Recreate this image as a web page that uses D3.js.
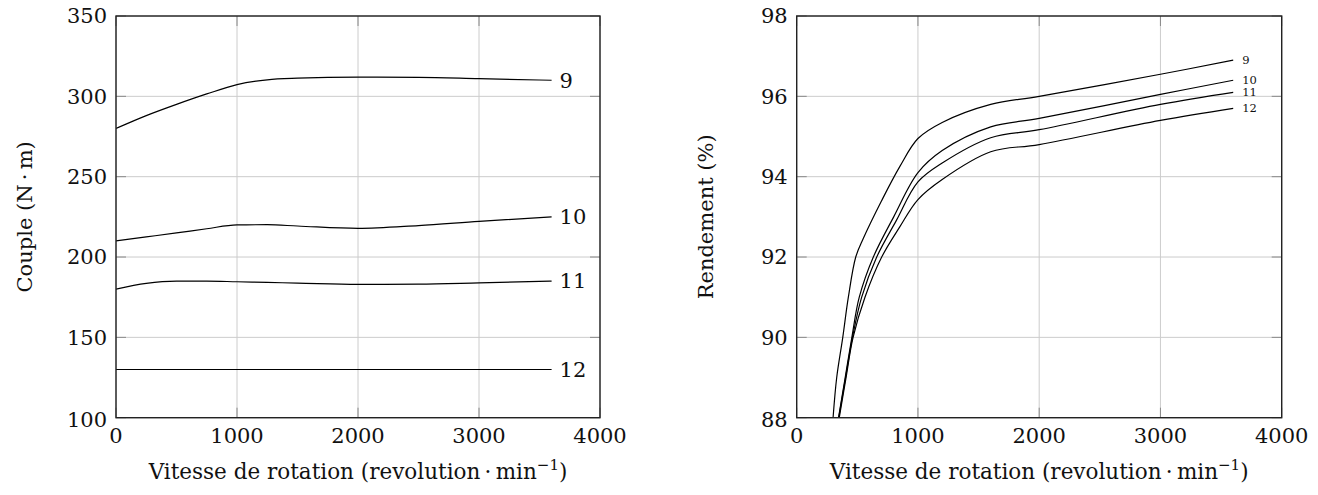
<!DOCTYPE html>
<html>
<head>
<meta charset="utf-8">
<script src="https://cdn.jsdelivr.net/npm/d3@7"></script>
<style>
  html, body { margin: 0; padding: 0; background: #fff; }
  svg { display: block; }
  text { font-family: "DejaVu Serif", serif; fill: #111; }
</style>
</head>
<body>
<svg id="chart" width="1318" height="495"></svg>
<script>
// ---------- data ----------
const seriesNames = ["9", "10", "11", "12"];

// Couple (N·m) vs vitesse
const coupleRpm = [0, 250, 500, 750, 1000, 1250, 1500, 2000, 2500, 3000, 3600];
const couple9  = [280, 288, 295, 301.5, 307.3, 310.3, 311.3, 312, 311.8, 311, 310];
const couple10 = [210, 212.5, 215, 217.6, 220, 220.1, 219.3, 217.8, 219.6, 222.2, 225];
const couple11 = [180, 183.6, 185, 185, 184.6, 184.2, 183.8, 183, 183.1, 183.9, 185];
const couple12 = [130, 130, 130, 130, 130, 130, 130, 130, 130, 130, 130];

// Rendement (%) vs vitesse
const rend9Rpm  = [300, 330, 380, 426, 487, 549, 700, 850, 1000, 1200, 1600, 2000, 3000, 3600];
const rend9     = [88, 89, 90, 91, 92, 92.46, 93.4, 94.25, 94.95, 95.35, 95.8, 96.0, 96.55, 96.9];
const rend10Rpm = [345, 400, 455, 516, 632, 800, 1000, 1200, 1600, 2000, 3000, 3600];
const rend10    = [88, 89, 90, 91, 92, 93.0, 94.1, 94.65, 95.24, 95.45, 96.05, 96.4];
const rend11Rpm = [347, 403, 460, 536, 660, 820, 1000, 1200, 1600, 2000, 3000, 3600];
const rend11    = [88, 89, 90, 91, 92, 92.9, 93.87, 94.34, 94.97, 95.17, 95.8, 96.1];
const rend12Rpm = [351, 407, 465, 563, 701, 850, 1000, 1200, 1600, 2000, 3000, 3600];
const rend12    = [88, 89, 90, 91, 92, 92.75, 93.43, 93.93, 94.62, 94.8, 95.4, 95.7];

const xTicks = [0, 1000, 2000, 3000, 4000];
const coupleTicks = [100, 150, 200, 250, 300, 350];
const rendTicks = [88, 90, 92, 94, 96, 98];

const xLabel = "Vitesse de rotation (revolution\u2009\u00b7\u2009min";
const coupleLabel = "Couple (N\u2009\u00b7\u2009m)";
const rendLabel = "Rendement (%)";

// ---------- drawing ----------
const svg = d3.select("#chart");

function zip(xs, ys) { return xs.map((x, i) => [x, ys[i]]); }

function panel(opts) {
  const { left, right, top, bottom, yDomain, yTicks, series, yLabel, yLabelX, labelSize, curve } = opts;
  const x = d3.scaleLinear().domain([0, 4000]).range([left, right]);
  const y = d3.scaleLinear().domain(yDomain).range([bottom, top]);
  const g = svg.append("g");

  const clipId = "clip" + Math.round(left);
  svg.append("defs").append("clipPath").attr("id", clipId)
    .append("rect").attr("x", left).attr("y", top).attr("width", right - left).attr("height", bottom - top);

  // grid
  g.append("g").selectAll("line").data(xTicks).join("line")
    .attr("x1", d => x(d)).attr("x2", d => x(d)).attr("y1", top).attr("y2", bottom)
    .attr("stroke", "#cccccc").attr("stroke-width", 1);
  g.append("g").selectAll("line").data(yTicks).join("line")
    .attr("y1", d => y(d)).attr("y2", d => y(d)).attr("x1", left).attr("x2", right)
    .attr("stroke", "#cccccc").attr("stroke-width", 1);

  // tick marks (inside, mirrored)
  const tl = 10;
  const tk = g.append("g").attr("stroke", "#8a8a8a").attr("stroke-width", 1);
  tk.selectAll(".xb").data(xTicks).join("line")
    .attr("x1", d => x(d)).attr("x2", d => x(d)).attr("y1", bottom).attr("y2", bottom - tl);
  tk.selectAll(".xt").data(xTicks).join("line")
    .attr("x1", d => x(d)).attr("x2", d => x(d)).attr("y1", top).attr("y2", top + tl);
  tk.selectAll(".yl").data(yTicks).join("line")
    .attr("y1", d => y(d)).attr("y2", d => y(d)).attr("x1", left).attr("x2", left + tl);
  tk.selectAll(".yr").data(yTicks).join("line")
    .attr("y1", d => y(d)).attr("y2", d => y(d)).attr("x1", right).attr("x2", right - tl);

  // curves
  const line = d3.line().x(d => x(d[0])).y(d => y(d[1])).curve(curve);
  const cg = g.append("g").attr("clip-path", `url(#${clipId})`);
  series.forEach(s => {
    cg.append("path").attr("d", line(s.pts)).attr("fill", "none")
      .attr("stroke", "#000").attr("stroke-width", 1.2);
  });
  // series labels
  series.forEach(s => {
    const last = s.pts[s.pts.length - 1];
    g.append("text").attr("x", x(last[0]) + (labelSize > 14 ? 8 : 9)).attr("y", y(last[1]))
      .attr("dy", "0.35em").attr("font-size", labelSize).text(s.name);
  });

  // frame
  g.append("rect").attr("x", left).attr("y", top).attr("width", right - left).attr("height", bottom - top)
    .attr("fill", "none").attr("stroke", "#222").attr("stroke-width", 1.4);

  // tick labels
  g.append("g").selectAll("text").data(xTicks).join("text")
    .attr("x", d => x(d)).attr("y", bottom + 18).attr("dy", "0.35em")
    .attr("text-anchor", "middle").attr("font-size", 21).text(d => d);
  g.append("g").selectAll("text").data(yTicks).join("text")
    .attr("x", left - 9).attr("y", d => y(d) + (d === yDomain[0] ? 2 : 0)).attr("dy", "0.35em")
    .attr("text-anchor", "end").attr("font-size", 21).text(d => d);

  // x axis label with superscript
  const xl = g.append("text").attr("x", (left + right) / 2).attr("y", 479)
    .attr("text-anchor", "middle").attr("font-size", 21.5);
  xl.append("tspan").text(xLabel);
  xl.append("tspan").attr("font-size", 15).attr("dy", -9).text("\u22121");
  xl.append("tspan").attr("dy", 9).text(")");

  // y axis label
  g.append("text").attr("transform", `translate(${yLabelX},${(top + bottom) / 2}) rotate(-90)`)
    .attr("text-anchor", "middle").attr("dy", "0.35em").attr("font-size", 21).text(yLabel);
}

panel({
  left: 116, right: 600, top: 16, bottom: 417.7, curve: d3.curveMonotoneX,
  yDomain: [100, 350], yTicks: coupleTicks, yLabel: coupleLabel, yLabelX: 25, labelSize: 21,
  series: [
    { name: seriesNames[0], pts: zip(coupleRpm, couple9) },
    { name: seriesNames[1], pts: zip(coupleRpm, couple10) },
    { name: seriesNames[2], pts: zip(coupleRpm, couple11) },
    { name: seriesNames[3], pts: zip(coupleRpm, couple12) }
  ]
});

panel({
  left: 796.7, right: 1281.7, top: 16, bottom: 417.7, curve: d3.curveCatmullRom.alpha(0.5),
  yDomain: [88, 98], yTicks: rendTicks, yLabel: rendLabel, yLabelX: 706, labelSize: 11.5,
  series: [
    { name: seriesNames[0], pts: zip(rend9Rpm, rend9) },
    { name: seriesNames[1], pts: zip(rend10Rpm, rend10) },
    { name: seriesNames[2], pts: zip(rend11Rpm, rend11) },
    { name: seriesNames[3], pts: zip(rend12Rpm, rend12) }
  ]
});
</script>
</body>
</html>
